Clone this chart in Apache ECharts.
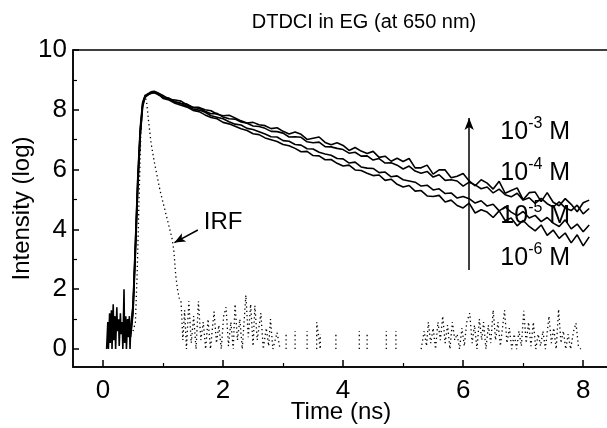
<!DOCTYPE html>
<html>
<head>
<meta charset="utf-8">
<script src="https://cdn.jsdelivr.net/npm/echarts@6/dist/echarts.min.js"></script>
<style>
  html, body { margin: 0; padding: 0; background: #fff; }
  #chart { width: 607px; height: 428px; }
</style>
</head>
<body>
<div id="chart"></div>
<script>
// Fluorescence decays of DTDCI in EG
const FONT = "'Liberation Sans', Arial, sans-serif";

const xTicks = [0, 2, 4, 6, 8];
const xMinorTicks = [1, 3, 5, 7];
const yTicks = [0, 2, 4, 6, 8, 10];
const yMinorTicks = [1, 3, 5, 7, 9];

// shared time base of the four decay curves (ns)
const decayTime = [
  0.46, 0.5, 0.54, 0.58, 0.62, 0.66, 0.7, 0.75, 0.8, 0.85, 0.9, 0.95,
  1.0, 1.1, 1.2, 1.3, 1.4, 1.5, 1.6, 1.7, 1.8, 1.9,
  2.0, 2.1, 2.2, 2.3, 2.4, 2.5, 2.6, 2.7, 2.8, 2.9,
  3.0, 3.1, 3.2, 3.3, 3.4, 3.5, 3.6, 3.7, 3.8, 3.9,
  4.0, 4.1, 4.2, 4.3, 4.4, 4.5, 4.6, 4.7, 4.8, 4.9,
  5.0, 5.1, 5.2, 5.3, 5.4, 5.5, 5.6, 5.7, 5.8, 5.9,
  6.0, 6.1, 6.2, 6.3, 6.4, 6.5, 6.6, 6.7, 6.8, 6.9,
  7.0, 7.1, 7.2, 7.3, 7.4, 7.5, 7.6, 7.7, 7.8, 7.9,
  8.0, 8.1
];

// 10^-3 M
const decay1e3 = [
  0.6, 1.5, 3.6, 5.8, 7.4, 8.25, 8.47, 8.54, 8.6, 8.62, 8.58, 8.53,
  8.48, 8.35, 8.33, 8.29, 8.16, 8.08, 8.08, 8.00, 7.97, 7.85,
  7.80, 7.82, 7.73, 7.63, 7.56, 7.58, 7.50, 7.47, 7.37, 7.40,
  7.28, 7.19, 7.26, 7.18, 7.01, 7.05, 7.09, 6.91, 6.83, 6.90,
  6.81, 6.64, 6.74, 6.62, 6.54, 6.61, 6.41, 6.45, 6.28, 6.38,
  6.27, 6.37, 6.06, 6.06, 6.15, 5.85, 5.99, 5.99, 5.73, 5.78,
  5.87, 5.62, 5.46, 5.66, 5.55, 5.35, 5.61, 5.21, 5.30, 5.39,
  4.99, 5.23, 5.25, 4.93, 5.23, 4.91, 4.79, 5.03, 4.84, 4.59,
  4.89, 4.98
];

// 10^-4 M
const decay1e4 = [
  0.5, 1.3, 3.3, 5.5, 7.2, 8.15, 8.44, 8.52, 8.57, 8.6, 8.57, 8.5,
  8.43, 8.39, 8.27, 8.22, 8.19, 8.08, 8.05, 7.95, 7.87, 7.88,
  7.76, 7.70, 7.69, 7.59, 7.55, 7.46, 7.44, 7.38, 7.28, 7.27,
  7.22, 7.09, 7.10, 7.08, 6.93, 6.90, 6.92, 6.77, 6.76, 6.71,
  6.67, 6.55, 6.58, 6.45, 6.46, 6.32, 6.37, 6.22, 6.23, 6.15,
  6.02, 6.12, 5.95, 5.88, 5.94, 5.75, 5.83, 5.64, 5.66, 5.62,
  5.45, 5.58, 5.49, 5.36, 5.42, 5.22, 5.35, 5.16, 5.09, 5.21,
  4.98, 5.06, 4.87, 5.04, 4.86, 4.75, 4.92, 4.72, 4.63, 4.81,
  4.52, 4.70
];

// 10^-5 M
const decay1e5 = [
  0.7, 1.4, 3.5, 5.7, 7.3, 8.2, 8.45, 8.5, 8.56, 8.58, 8.55, 8.49,
  8.41, 8.36, 8.26, 8.20, 8.12, 8.03, 7.99, 7.92, 7.80, 7.75,
  7.70, 7.60, 7.52, 7.49, 7.38, 7.34, 7.27, 7.19, 7.10, 7.09,
  6.97, 6.95, 6.84, 6.82, 6.70, 6.69, 6.58, 6.52, 6.48, 6.37,
  6.36, 6.22, 6.25, 6.09, 6.05, 6.04, 5.90, 5.92, 5.76, 5.79,
  5.66, 5.62, 5.58, 5.45, 5.48, 5.32, 5.36, 5.20, 5.22, 5.05,
  5.10, 5.03, 4.88, 4.96, 4.78, 4.84, 4.62, 4.75, 4.58, 4.46,
  4.60, 4.38, 4.47, 4.26, 4.40, 4.21, 4.10, 4.32, 4.02, 4.18,
  3.92, 4.15
];

// 10^-6 M
const decay1e6 = [
  0.4, 1.2, 3.2, 5.4, 7.1, 8.1, 8.42, 8.5, 8.55, 8.57, 8.53, 8.47,
  8.38, 8.33, 8.22, 8.15, 8.09, 7.98, 7.94, 7.83, 7.74, 7.70,
  7.58, 7.53, 7.45, 7.37, 7.31, 7.20, 7.17, 7.06, 7.00, 6.94,
  6.84, 6.80, 6.71, 6.60, 6.61, 6.47, 6.46, 6.33, 6.34, 6.21,
  6.12, 6.15, 5.99, 5.97, 5.88, 5.80, 5.82, 5.64, 5.68, 5.51,
  5.42, 5.47, 5.28, 5.30, 5.12, 5.10, 5.14, 4.92, 4.98, 4.80,
  4.72, 4.88, 4.55, 4.66, 4.58, 4.40, 4.62, 4.30, 4.38, 4.12,
  4.30, 4.10, 3.95, 4.15, 3.80, 3.98, 3.70, 3.88, 3.55, 3.82,
  3.45, 3.75
];

// noisy baseline before the rise (solid)
const baseTime = [
  0.06, 0.08, 0.09, 0.11, 0.12, 0.14, 0.15, 0.17, 0.18, 0.20, 0.21, 0.23, 0.24, 0.26,
  0.27, 0.29, 0.30, 0.32, 0.33, 0.35, 0.36, 0.38, 0.39, 0.41, 0.42, 0.44, 0.45, 0.46
];
const baseValue = [
  0, 0.9, 0, 1.2, 0.2, 1.3, 0, 1.5, 0.3, 1.1, 0, 1.4, 0.6, 1.0,
  0.1, 1.2, 0.5, 0.9, 0, 2.0, 0.2, 1.1, 0, 1.0, 0.4, 1.1, 0, 0.6
];

// instrument response function (dotted), null = gap
const irfTime = [
  0.50, 0.54, 0.57, 0.60, 0.63, 0.66, 0.70, 0.73, 0.76, 0.80, 0.85, 0.90, 0.95, 1.00,
  1.05, 1.10, 1.15, 1.18, 1.21, 1.24, 1.27,
  1.30, 1.33, 1.36, 1.39, 1.43, 1.47, 1.51, 1.55, 1.59, 1.63, 1.67, 1.71, 1.75, 1.79,
  1.85, 1.89, 1.93, 1.97, 2.01, 2.05, 2.09, 2.13, 2.17, 2.20, 2.24, 2.28, 2.32, 2.38,
  2.42, 2.46, 2.50, 2.53, 2.57, 2.63, 2.67, 2.72, 2.76, 2.79, 2.83, 2.90, 2.95, 2.96,
  3.05, 3.05, 3.06, 3.20, 3.20, 3.21, 3.40, 3.40, 3.41, 3.56, 3.56, 3.62, 3.62, 3.63,
  3.88, 3.88, 3.89, 4.27, 4.27, 4.28, 4.40, 4.40, 4.41, 4.72, 4.72, 4.73, 4.88, 4.88, 4.89,
  5.30, 5.35, 5.39, 5.42, 5.46, 5.50, 5.54, 5.58, 5.62, 5.66, 5.70, 5.74, 5.78, 5.82,
  5.86, 5.90, 5.94, 5.98, 6.02, 6.06, 6.11, 6.15, 6.19, 6.23, 6.27, 6.31, 6.34, 6.38,
  6.42, 6.46, 6.50, 6.54, 6.58, 6.62, 6.69, 6.73, 6.77, 6.81, 6.85, 6.89, 6.93, 6.97,
  7.01, 7.05, 7.09, 7.13, 7.17, 7.21, 7.25, 7.29, 7.33, 7.37, 7.43, 7.47, 7.51, 7.55,
  7.59, 7.63, 7.67, 7.71, 7.75, 7.79, 7.84, 7.88, 7.92, 7.96
];
const irfValue = [
  0.6, 0.9, 2.6, 5.0, 7.2, 8.2, 8.5, 8.2, 7.6, 6.9, 6.3, 5.8, 5.3, 4.9,
  4.5, 4.1, 3.7, 3.3, 2.5, 2.0, 1.7,
  1.6, 0.3, 1.3, 0.0, 1.6, 0.2, 1.1, 0.0, 1.6, 0.3, 0.9, 0.0, 1.0, 0.0,
  1.25, 0.2, 0.8, 0.0, 1.1, 1.4, 0.1, 0.9, 0.0, 1.5, 0.3, 1.0, 0.0, 1.8,
  0.4, 1.5, 0.1, 1.45, 0.3, 1.2, 0.0, 0.7, 0.1, 1.0, 0.0, 0.55, 0.0, null,
  0.0, 0.5, null, 0.0, 0.6, null, 0.0, 0.6, null, 0.0, 0.9, 0.0, 0.5, null,
  0.0, 0.55, null, 0.0, 0.6, null, 0.0, 0.5, null, 0.0, 0.6, null, 0.0, 0.6, null,
  0.0, 0.6, 0.1, 0.9, 0.2, 0.7, 0.0, 0.9, 0.3, 1.1, 0.2, 0.8, 0.0, 0.9,
  0.3, 0.5, 0.0, 0.7, 0.1, 0.9, 1.2, 0.2, 0.8, 0.0, 1.0, 0.3, 0.9, 0.0,
  0.8, 0.2, 1.3, 0.3, 0.9, 0.1, 1.3, 0.2, 0.7, 0.0, 0.5, 0.0, 0.6, 0.1,
  1.28, 0.2, 0.9, 0.1, 0.9, 0.0, 0.5, 0.1, 0.6, 0.0, 1.1, 0.2, 0.7, 0.0,
  1.33, 0.2, 0.6, 0.0, 0.5, 0.0, 0.6, 0.87, 0.1, 0.0
];

const concExponents = ['-3', '-4', '-5', '-6'];

function zip(xs, ys) {
  return xs.map((x, i) => [x, ys[i]]);
}

const chart = echarts.init(document.getElementById('chart'), null, { renderer: 'canvas' });

const solidLine = { color: '#000', width: 1.6 };

function decaySeries(name, values) {
  return {
    name: name,
    type: 'line',
    data: zip(decayTime, values),
    showSymbol: false,
    lineStyle: solidLine,
    silent: true,
    z: 3
  };
}

const concLabelStyle = {
  show: true,
  position: 'right',
  distance: 0,
  color: '#000',
  rich: {
    b: { fontFamily: FONT, fontSize: 25, color: '#000', lineHeight: 28, verticalAlign: 'bottom' },
    s: { fontFamily: FONT, fontSize: 16, color: '#000', lineHeight: 16, padding: [0, 0, 13, 0], verticalAlign: 'bottom' }
  }
};

const option = {
  animation: false,
  backgroundColor: '#fff',
  title: {
    text: 'DTDCI in EG (at 650 nm)',
    left: 359,
    top: 7,
    textAlign: 'center',
    textStyle: { fontFamily: FONT, fontSize: 20, fontWeight: 'normal', color: '#000' }
  },
  grid: {
    left: 73,
    top: 50,
    width: 536,
    height: 317,
    outerBoundsMode: 'none',
    containLabel: false,
    show: true,
    borderColor: '#000',
    borderWidth: 1.5,
    backgroundColor: 'transparent'
  },
  xAxis: [
    {
      type: 'value',
      min: -0.5,
      max: 8.43,
      position: 'bottom',
      name: 'Time (ns)',
      nameLocation: 'middle',
      nameGap: 33,
      nameMoveOverlap: false,
      nameTextStyle: { fontFamily: FONT, fontSize: 24, color: '#000' },
      axisLine: { show: true, onZero: false, lineStyle: { color: '#000', width: 1.5 } },
      axisTick: { show: true, inside: true, length: 7, customValues: xTicks, lineStyle: { color: '#000', width: 1.5 } },
      axisLabel: { customValues: xTicks, margin: 11, fontFamily: FONT, fontSize: 26, color: '#000' },
      splitLine: { show: false }
    },
    {
      type: 'value',
      min: -0.5,
      max: 8.43,
      position: 'bottom',
      axisLine: { show: false, onZero: false },
      axisTick: { show: true, inside: true, length: 4, customValues: xMinorTicks, lineStyle: { color: '#000', width: 1.2 } },
      axisLabel: { show: false },
      splitLine: { show: false }
    }
  ],
  yAxis: [
    {
      type: 'value',
      min: -0.6,
      max: 10,
      position: 'left',
      name: 'Intensity (log)',
      nameLocation: 'middle',
      nameGap: 39,
      nameMoveOverlap: false,
      nameTextStyle: { fontFamily: FONT, fontSize: 24, color: '#000' },
      axisLine: { show: true, onZero: false, lineStyle: { color: '#000', width: 1.5 } },
      axisTick: { show: true, inside: true, length: 6, customValues: yTicks, lineStyle: { color: '#000', width: 1.5 } },
      axisLabel: { customValues: yTicks, margin: 6, fontFamily: FONT, fontSize: 26, color: '#000' },
      splitLine: { show: false }
    },
    {
      type: 'value',
      min: -0.6,
      max: 10,
      position: 'left',
      axisLine: { show: false, onZero: false },
      axisTick: { show: true, inside: true, length: 4, customValues: yMinorTicks, lineStyle: { color: '#000', width: 1.2 } },
      axisLabel: { show: false },
      splitLine: { show: false }
    }
  ],
  series: [
    {
      name: 'baseline',
      type: 'line',
      data: zip(baseTime, baseValue),
      showSymbol: false,
      lineStyle: solidLine,
      silent: true
    },
    decaySeries('1e-3 M', decay1e3),
    decaySeries('1e-4 M', decay1e4),
    decaySeries('1e-5 M', decay1e5),
    {
      name: '1e-6 M',
      type: 'line',
      data: zip(decayTime, decay1e6),
      showSymbol: false,
      lineStyle: solidLine,
      silent: true,
      z: 3,
      // concentration arrow and labels
      markLine: {
        silent: true,
        symbol: ['none', 'arrow'],
        symbolSize: [7, 12],
        lineStyle: { type: 'solid', color: '#000', width: 1.5 },
        label: { show: false },
        data: [[{ coord: [6.1, 2.64] }, { coord: [6.1, 7.73] }]]
      },
      markPoint: {
        silent: true,
        symbol: 'circle',
        symbolSize: 0,
        label: concLabelStyle,
        data: concExponents.map((e, i) => ({
          coord: [6.62, [7.29, 5.92, 4.48, 3.08][i]],
          label: { formatter: '{b|10}{s|' + e + '}{b| M}' }
        }))
      }
    },
    {
      name: 'IRF',
      type: 'line',
      data: zip(irfTime, irfValue),
      showSymbol: false,
      connectNulls: false,
      lineStyle: { color: '#000', width: 1.3, type: [1.3, 3] },
      silent: true,
      z: 2,
      markLine: {
        silent: true,
        symbol: ['none', 'arrow'],
        symbolSize: [7, 11],
        lineStyle: { type: 'solid', color: '#000', width: 1.5 },
        label: { show: false },
        data: [[{ coord: [1.58, 3.98] }, { coord: [1.19, 3.56] }]]
      },
      markPoint: {
        silent: true,
        symbol: 'circle',
        symbolSize: 0,
        label: {
          show: true,
          position: 'inside',
          formatter: 'IRF',
          fontFamily: FONT,
          fontSize: 24,
          color: '#000'
        },
        data: [{ coord: [2.0, 4.22] }]
      }
    }
  ]
};

chart.setOption(option);
</script>
</body>
</html>
